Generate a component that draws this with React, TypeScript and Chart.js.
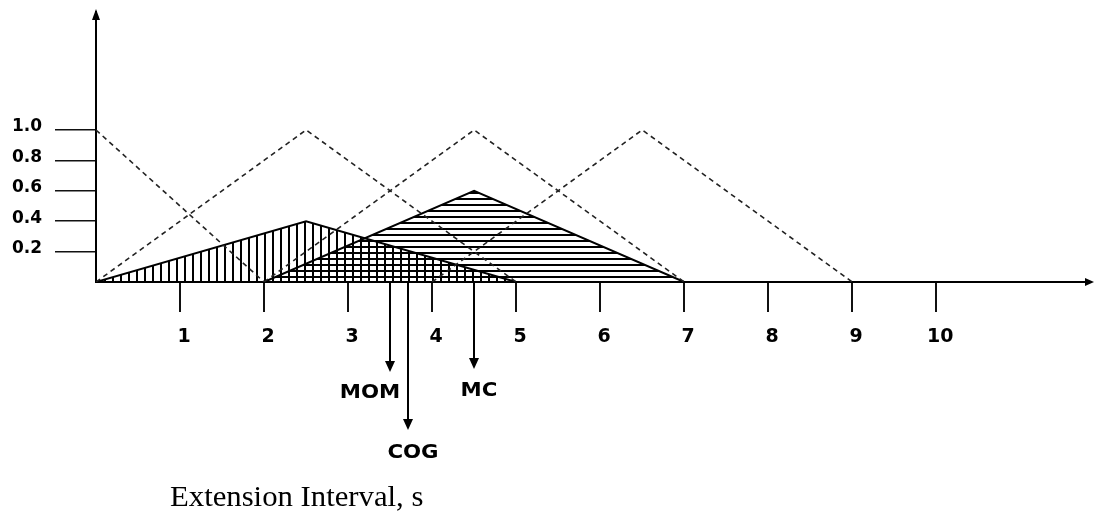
import React, { useEffect, useRef } from 'react';
import { Chart, registerables } from 'chart.js';

Chart.register(...registerables);

// ---- data ----
const xTickValues = [1, 2, 3, 4, 5, 6, 7, 8, 9, 10];
const xTickLabels = ['1', '2', '3', '4', '5', '6', '7', '8', '9', '10'];
const yTickValues = [0.2, 0.4, 0.6, 0.8, 1.0];
const yTickLabels = ['0.2', '0.4', '0.6', '0.8', '1.0'];

// dashed membership functions
const mf1X = [0, 2];
const mf1Y = [1, 0];
const mf2X = [0, 2.5, 5];
const mf2Y = [0, 1, 0];
const mf3X = [2, 4.5, 7];
const mf3Y = [0, 1, 0];
const mf4X = [4, 6.5, 9];
const mf4Y = [0, 1, 0];

// scaled (fired) output sets
const outAX = [0, 2.5, 5];
const outAY = [0, 0.4, 0];
const outBX = [2, 4.5, 7];
const outBY = [0, 0.6, 0];

// defuzzified values
const defuzzNames = ['MOM', 'COG', 'MC'];
const defuzzValues = [3.5, 3.71, 4.5];

const axisTitle = 'Extension Interval, s';

const X_MAX = 11.83;
const Y_MAX = 1.776;

const pts = (xs: number[], ys: number[]) => xs.map((x, i) => ({ x, y: ys[i] }));

// styling for the defuzzification arrows (pixels)
const arrowLen = [90, 148, 87];
const labelDx = [-20, 5, 5];
const labelDy = [21, 23, 22];

function makePattern(ctx: CanvasRenderingContext2D, vertical: boolean, period: number, thick: number) {
  const c = document.createElement('canvas');
  c.width = period;
  c.height = period;
  const g = c.getContext('2d')!;
  g.fillStyle = '#000';
  if (vertical) g.fillRect(0, 0, thick, period);
  else g.fillRect(0, 0, period, thick);
  return ctx.createPattern(c, 'repeat')!;
}

const decorPlugin = {
  id: 'decor',
  afterDraw(chart: any) {
    const { ctx, chartArea, scales } = chart;
    const xs = scales.x;
    const ys = scales.y;
    const y0 = ys.getPixelForValue(0);
    const x0 = xs.getPixelForValue(0);
    ctx.save();
    ctx.fillStyle = '#000';
    ctx.strokeStyle = '#000';
    // y axis arrow head
    ctx.beginPath();
    ctx.moveTo(x0, chartArea.top - 3);
    ctx.lineTo(x0 - 4, chartArea.top + 8);
    ctx.lineTo(x0 + 4, chartArea.top + 8);
    ctx.closePath();
    ctx.fill();
    // x axis arrow head
    ctx.beginPath();
    ctx.moveTo(chartArea.right + 4, y0);
    ctx.lineTo(chartArea.right - 5, y0 - 4);
    ctx.lineTo(chartArea.right - 5, y0 + 4);
    ctx.closePath();
    ctx.fill();
    // defuzzification arrows
    defuzzValues.forEach((v, i) => {
      const x = Math.round(xs.getPixelForValue(v));
      const tip = y0 + arrowLen[i];
      ctx.lineWidth = 2;
      ctx.beginPath();
      ctx.moveTo(x, y0);
      ctx.lineTo(x, tip - 8);
      ctx.stroke();
      ctx.beginPath();
      ctx.moveTo(x, tip);
      ctx.lineTo(x - 5, tip - 11);
      ctx.lineTo(x + 5, tip - 11);
      ctx.closePath();
      ctx.fill();
      ctx.save();
      ctx.translate(x + labelDx[i], tip + labelDy[i]);
      ctx.scale(1.12, 1);
      ctx.font = 'bold 19px "DejaVu Sans"';
      ctx.textAlign = 'center';
      ctx.textBaseline = 'middle';
      ctx.fillText(defuzzNames[i], 0, 0);
      ctx.restore();
    });
    // x axis caption
    ctx.save();
    ctx.translate(170, 506);
    ctx.scale(1.024, 1);
    ctx.font = '30px "Liberation Serif"';
    ctx.textAlign = 'left';
    ctx.textBaseline = 'alphabetic';
    ctx.fillText(axisTitle, 0, 0);
    ctx.restore();
    ctx.restore();
  },
};

export default function App() {
  const ref = useRef<HTMLCanvasElement>(null);
  useEffect(() => {
    const canvas = ref.current!;
    const ctx = canvas.getContext('2d')!;
    const vPat = makePattern(ctx, true, 8, 2);
    const hPat = makePattern(ctx, false, 6, 2);
    const dashed = (data: { x: number; y: number }[]) => ({
      data,
      borderColor: '#222',
      borderWidth: 1.6,
      borderDash: [5, 4],
      fill: false,
      pointRadius: 0,
      tension: 0,
    });
    const chart = new Chart(canvas, {
      type: 'line',
      data: {
        datasets: [
          dashed(pts(mf1X, mf1Y)),
          dashed(pts(mf2X, mf2Y)),
          dashed(pts(mf3X, mf3Y)),
          dashed(pts(mf4X, mf4Y)),
          {
            data: pts(outAX, outAY),
            borderColor: '#000',
            borderWidth: 2,
            backgroundColor: vPat,
            fill: 'origin',
            pointRadius: 0,
            tension: 0,
          },
          {
            data: pts(outBX, outBY),
            borderColor: '#000',
            borderWidth: 2,
            backgroundColor: hPat,
            fill: 'origin',
            pointRadius: 0,
            tension: 0,
          },
        ] as any,
      },
      options: {
        responsive: false,
        devicePixelRatio: 1,
        animation: false,
        events: [],
        layout: { padding: { left: 12, top: 12, right: 4, bottom: 172 } },
        plugins: { legend: { display: false }, tooltip: { enabled: false }, title: { display: false } },
        scales: {
          x: {
            type: 'linear',
            min: 0,
            max: X_MAX,
            afterBuildTicks: (s: any) => {
              s.ticks = xTickValues.map((v) => ({ value: v }));
            },
            afterFit: (s: any) => {
              s.height = 60;
              s.paddingLeft = 0;
              s.paddingRight = 0;
            },
            grid: { drawOnChartArea: false, drawTicks: true, tickLength: 30, color: '#111', lineWidth: 2 },
            border: { display: true, color: '#000', width: 2 },
            ticks: {
              autoSkip: false,
              maxRotation: 0,
              padding: 14,
              labelOffset: 4,
              color: '#000',
              font: { family: '"DejaVu Sans"', size: 19, weight: 'bold' },
              callback: (_v: any, i: number) => xTickLabels[i],
            },
          },
          y: {
            type: 'linear',
            min: 0,
            max: Y_MAX,
            afterBuildTicks: (s: any) => {
              s.ticks = yTickValues.map((v) => ({ value: v }));
            },
            afterFit: (s: any) => {
              s.width = 84;
              s.paddingTop = 0;
              s.paddingBottom = 0;
            },
            grid: { drawOnChartArea: false, drawTicks: true, tickLength: 41, color: '#111', lineWidth: 1.5 },
            border: { display: true, color: '#000', width: 2 },
            ticks: {
              autoSkip: false,
              crossAlign: 'far',
              padding: 4,
              labelOffset: -3,
              color: '#000',
              font: { family: '"DejaVu Sans"', size: 17, weight: 'bold' },
              callback: (_v: any, i: number) => yTickLabels[i],
            },
          },
        },
      } as any,
      plugins: [decorPlugin],
    });
    return () => chart.destroy();
  }, []);
  return (
    <div style={{ position: 'fixed', left: 0, top: 0, width: 1094, height: 514, background: '#fff' }}>
      <canvas ref={ref} width={1094} height={514} style={{ display: 'block' }} />
    </div>
  );
}
